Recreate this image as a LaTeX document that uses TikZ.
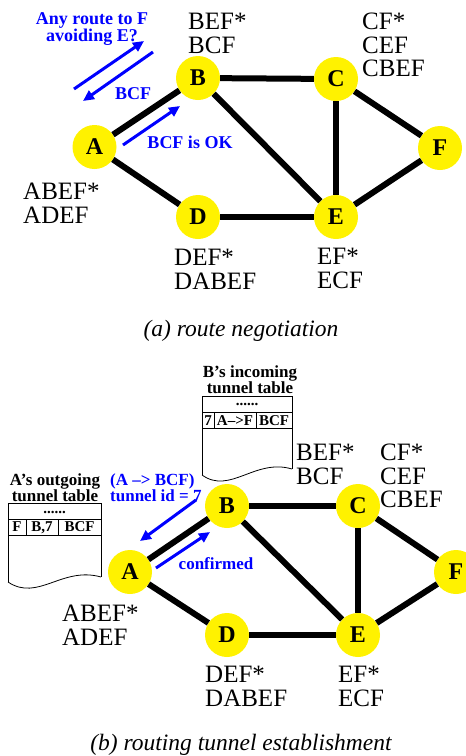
\documentclass[tikz,border=0pt]{standalone}
\usepackage{fontspec}
\setmainfont{Liberation Serif}
\usetikzlibrary{arrows.meta}
\tikzset{
  nd/.style={circle, fill=yellow, minimum size=44pt, inner sep=0pt, font=\fontsize{24}{24}\selectfont\bfseries},
  edge/.style={line width=6pt},
  lbl/.style={anchor=north west, inner sep=0pt, align=left, font=\fontsize{25}{23.5}\selectfont},
  blu/.style={text=blue, inner sep=0pt, font=\fontsize{18}{17}\selectfont\bfseries},
  blus/.style={text=blue, inner sep=0pt, font=\fontsize{17}{15}\selectfont\bfseries},
  barrow/.style={draw=blue, line width=3pt, -{Triangle[length=11pt,width=10pt]}},
  tbl/.style={draw=black, line width=0.8pt},
  ttitle/.style={inner sep=0pt, anchor=north, align=center, font=\fontsize{17}{15}\selectfont\bfseries},
  cell/.style={inner sep=0pt, anchor=base, font=\fontsize{15}{15}\selectfont\bfseries},
  captext/.style={inner sep=0pt, anchor=base, font=\fontsize{23.5}{24}\selectfont\itshape}
}
\begin{document}
\begin{tikzpicture}[x=1pt,y=-1pt]
\useasboundingbox (0,0) rectangle (466,756);

% ---------- (a) route negotiation ----------
\node[nd] (A) at (94.5,147) {A};
\node[nd] (B) at (198,78) {B};
\node[nd] (C) at (336,79) {C};
\node[nd] (F) at (440,148) {F};
\node[nd] (D) at (198,217) {D};
\node[nd] (E) at (336,217) {E};
\draw[edge] (A) -- (B);
\draw[edge] (A) -- (D);
\draw[edge] (B) -- (C);
\draw[edge] (B) -- (E);
\draw[edge] (C) -- (E);
\draw[edge] (C) -- (F);
\draw[edge] (E) -- (F);
\draw[edge] (D) -- (E);

\node[lbl] (lB) at (188,13) {BEF*\\BCF};
\node[lbl] (lC) at (362,13) {CF*\\CEF\\CBEF};
\node[lbl] (lA) at (23,183) {ABEF*\\ADEF};
\node[lbl] (lD) at (174,249) {DEF*\\DABEF};
\node[lbl] (lE) at (317,248) {EF*\\ECF};

\node[blu, anchor=north, align=center] (q) at (92,12) {Any route to F\\avoiding E?};
\node[blu] (r1) at (133,94) {BCF};
\node[blu] (r2) at (190,142) {BCF is OK};
\coordinate (a1s) at (74,89);  \coordinate (a1e) at (144,41);
\coordinate (a2s) at (153,52); \coordinate (a2e) at (83,101);
\coordinate (a3s) at (123,145); \coordinate (a3e) at (180,106);
\draw[barrow] (a1s) -- (a1e);
\draw[barrow] (a2s) -- (a2e);
\draw[barrow] (a3s) -- (a3e);

\node[captext] (capa) at (241,336) {(a) route negotiation};

% ---------- (b) routing tunnel establishment ----------
\node[nd] (A2) at (130,572) {A};
\node[nd] (B2) at (227,506) {B};
\node[nd] (C2) at (358,506) {C};
\node[nd] (F2) at (456,572) {F};
\node[nd] (D2) at (227,635) {D};
\node[nd] (E2) at (358,635) {E};
\draw[edge] (A2) -- (B2);
\draw[edge] (A2) -- (D2);
\draw[edge] (B2) -- (C2);
\draw[edge] (B2) -- (E2);
\draw[edge] (C2) -- (E2);
\draw[edge] (C2) -- (F2);
\draw[edge] (E2) -- (F2);
\draw[edge] (D2) -- (E2);

\node[lbl] (lB2) at (296,444) {BEF*\\BCF};
\node[lbl] (lC2) at (380,444) {CF*\\CEF\\CBEF};
\node[lbl] (lA2) at (62,605) {ABEF*\\ADEF};
\node[lbl] (lD2) at (205,666) {DEF*\\DABEF};
\node[lbl] (lE2) at (338,666) {EF*\\ECF};

% B's incoming tunnel table
\node[ttitle] (tB) at (250,365) {B’s incoming\\tunnel table};
\draw[tbl] (202,475) -- (202,396) -- (292,396) -- (292,469);
\draw[tbl] (202,475) .. controls (230,495) and (255,458) .. (292,469);
\draw[tbl] (202,412) -- (292,412);
\draw[tbl] (202,428) -- (292,428);
\draw[tbl] (214,412) -- (214,428);
\draw[tbl] (256,412) -- (256,428);
\node[cell] (tB0) at (247,405) {......};
\node[cell] (tB1) at (208,425) {7};
\node[cell] (tB2) at (235,425) {A–>F};
\node[cell] (tB3) at (274,425) {BCF};

% A's outgoing tunnel table
\node[ttitle] (tA) at (55,473) {A’s outgoing\\tunnel table};
\draw[tbl] (8,582) -- (8,503) -- (101,503) -- (101,577);
\draw[tbl] (8,582) .. controls (38,602) and (62,566) .. (101,577);
\draw[tbl] (8,519) -- (101,519);
\draw[tbl] (8,535) -- (101,535);
\draw[tbl] (26,519) -- (26,535);
\draw[tbl] (58,519) -- (58,535);
\node[cell] (tA0) at (54.5,513) {......};
\node[cell] (tA1) at (17,531.5) {F};
\node[cell] (tA2) at (42,531.5) {B,7};
\node[cell] (tA3) at (79.5,531.5) {BCF};

\node[blus, anchor=north west, align=left] (tid) at (110,473) {(A –> BCF)\\tunnel id = 7};
\node[blus] (conf) at (216,564) {confirmed};
\coordinate (b1s) at (196,500); \coordinate (b1e) at (140,541);
\coordinate (b2s) at (156,568); \coordinate (b2e) at (210,532);
\draw[barrow] (b1s) -- (b1e);
\draw[barrow] (b2s) -- (b2e);

\node[captext] (capb) at (241,750) {(b) routing tunnel establishment};
\end{tikzpicture}
\end{document}
